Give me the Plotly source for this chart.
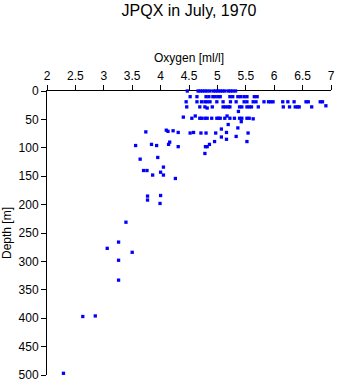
import plotly.graph_objects as go

# Oxygen [ml/l] and depth [m]
oxygen_surface = [4.47, 4.66, 4.70, 4.74, 4.78, 4.82, 4.87, 4.93, 4.97, 5.01, 5.05, 5.09, 5.13, 5.19, 5.23, 5.27, 5.32]
depth_surface = [0] * len(oxygen_surface)

oxygen_10 = [4.52, 4.64, 4.80, 4.85, 4.92, 4.96, 5.01, 5.05, 5.22, 5.27, 5.36, 5.41, 5.47, 5.52, 5.65, 5.70]
depth_10 = [10] * len(oxygen_10)

oxygen_20 = [4.45, 4.64, 4.72, 4.78, 4.82, 4.87, 4.99, 5.10, 5.23, 5.33, 5.47, 5.52, 5.63, 5.68,
             5.82, 5.90, 5.94, 5.98, 6.15, 6.24, 6.35, 6.56, 6.60, 6.81, 6.85]
depth_20 = [19] * len(oxygen_20)

oxygen_28 = [4.46, 4.69, 4.78, 4.82, 4.91, 5.10, 5.14, 5.19, 5.22, 5.39, 5.43, 5.52, 5.56, 5.60,
             5.72, 6.16, 6.27, 6.37, 6.41, 6.44, 6.66, 6.91]
depth_28 = [28, 28, 28, 30, 28, 28, 28, 28, 28, 28, 28, 28, 28, 28, 28, 28, 28, 28, 28, 28, 28, 26]

oxygen_50 = [4.40, 4.55, 4.61, 4.69, 4.72, 4.78, 4.82, 4.90, 4.99, 5.02, 5.05, 5.13, 5.17, 5.22,
             5.30, 5.39, 5.43, 5.52, 5.56, 5.63]
depth_50 = [46, 48, 44, 48, 48, 48, 48, 48, 48, 48, 48, 48, 44, 48, 48, 48, 48, 48, 48, 49]

oxygen_mid = [5.37, 5.42, 5.19, 5.36, 5.07, 4.10, 4.13, 4.22, 4.31, 4.52, 4.58, 4.71, 4.80, 4.97,
              5.16, 5.54, 3.74, 5.07, 5.33, 5.16, 4.95, 5.52, 4.86, 4.31, 4.79, 4.82, 4.78, 4.16,
              3.56, 3.84, 3.93, 4.14, 3.64, 3.95, 4.05, 3.70, 3.76, 3.86, 4.00, 4.05, 4.26,
              3.77, 3.77, 4.00, 3.99]
depth_mid = [36, 54, 59, 65, 67, 69, 71, 70, 73, 74, 73, 74, 74, 74,
             73, 74, 72, 81, 80, 85, 89, 89, 94, 98, 98, 98, 110, 90,
             96, 94, 96, 94, 120, 117, 134, 140, 140, 148, 143, 148, 154,
             185, 192, 184, 198]

oxygen_deep = [3.39, 3.26, 3.06, 3.50, 3.26, 3.26, 2.63, 2.85, 2.29]
depth_deep = [231, 266, 277, 284, 298, 333, 397, 396, 497]

oxygen = oxygen_surface + oxygen_10 + oxygen_20 + oxygen_28 + oxygen_50 + oxygen_mid + oxygen_deep
depth = depth_surface + depth_10 + depth_20 + depth_28 + depth_50 + depth_mid + depth_deep

x_ticks = [2, 2.5, 3, 3.5, 4, 4.5, 5, 5.5, 6, 6.5, 7]
y_ticks = [0, 50, 100, 150, 200, 250, 300, 350, 400, 450, 500]

fig = go.Figure(go.Scatter(
    x=oxygen, y=depth, mode="markers",
    marker=dict(symbol="square", size=3.3, color="#0000FF", line=dict(width=0)),
    cliponaxis=False,
))

fig.update_layout(
    width=338, height=384,
    margin=dict(l=47, r=7, t=91, b=9, autoexpand=False),
    paper_bgcolor="white", plot_bgcolor="white",
    font=dict(family="Liberation Sans, Arial, sans-serif", size=12, color="black"),
    showlegend=False,
    title=dict(text="JPQX in July, 1970", x=0.5, xref="paper", xanchor="center",
               y=0.988, yref="container", yanchor="top",
               font=dict(size=16, color="black")),
    xaxis=dict(side="top", range=[2, 7], tickvals=x_ticks, ticktext=[f"{v:g}" for v in x_ticks],
               ticks="outside", ticklen=5, tickcolor="black", showline=True, linecolor="black",
               linewidth=1, showgrid=False, zeroline=False, layer="below traces",
               title=dict(text="Oxygen [ml/l]", standoff=4, font=dict(size=12))),
    yaxis=dict(range=[500, 0], tickvals=y_ticks, ticks="outside", ticklen=5, tickcolor="black",
               showline=True, linecolor="black", linewidth=1, showgrid=False, zeroline=False,
               layer="below traces",
               title=dict(text="Depth [m]", standoff=4, font=dict(size=12))),
)

fig.write_html("out.html")
